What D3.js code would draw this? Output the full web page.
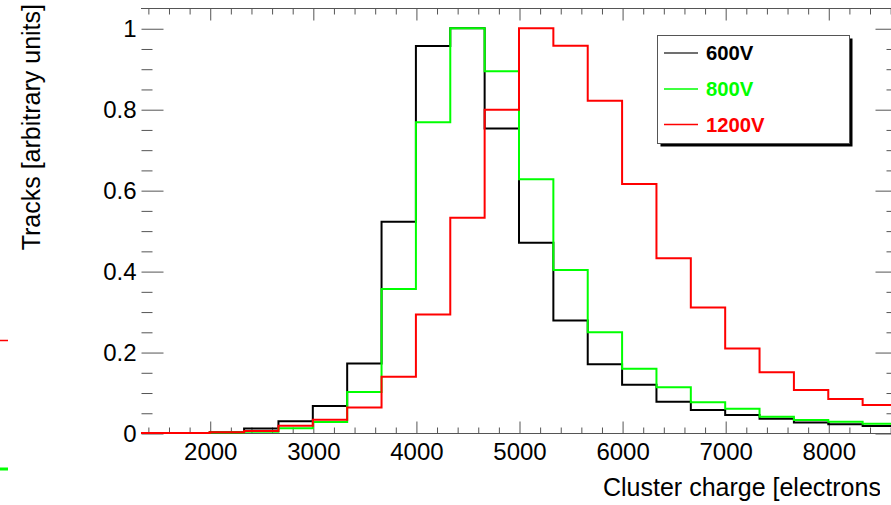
<!DOCTYPE html>
<html>
<head>
<meta charset="utf-8">
<script src="https://cdn.jsdelivr.net/npm/d3@7"></script>
<style>
  html, body { margin: 0; padding: 0; background: #fff; }
  svg { display: block; }
  text { font-family: "Liberation Sans", Arial, Helvetica, sans-serif; }
</style>
</head>
<body>
<svg id="chart" width="891" height="505"></svg>
<script>
// Histogram bin lower edges (electrons), bin width 333.33
const binLow = [1333.33, 1666.67, 2000, 2333.33, 2666.67, 3000, 3333.33, 3666.67,
  4000, 4333.33, 4666.67, 5000, 5333.33, 5666.67, 6000, 6333.33, 6666.67,
  7000, 7333.33, 7666.67, 8000, 8333.33];
const binHigh = 8666.67;

// Normalised track counts per bin for each bias voltage
const tracks600 = [0, 0, 0.002, 0.011, 0.029, 0.067, 0.172, 0.522, 0.956, 1.0, 0.752,
  0.470, 0.278, 0.170, 0.119, 0.077, 0.057, 0.0445, 0.035, 0.026, 0.0215, 0.017];
const tracks800 = [0, 0, 0.001, 0.003, 0.012, 0.027, 0.101, 0.356, 0.768, 1.0, 0.894,
  0.627, 0.403, 0.249, 0.159, 0.113, 0.076, 0.060, 0.040, 0.032, 0.028, 0.023];
const tracks1200 = [0, 0, 0.002, 0.005, 0.018, 0.033, 0.063, 0.139, 0.293, 0.532, 0.7985,
  1.0, 0.957, 0.821, 0.615, 0.432, 0.310, 0.209, 0.150, 0.106, 0.084, 0.069];

const seriesNames = ["600V", "800V", "1200V"];
const seriesColors = ["#000000", "#00ff00", "#ff0000"];

const xMajor = [2000, 3000, 4000, 5000, 6000, 7000, 8000];
const yMajor = [0, 0.2, 0.4, 0.6, 0.8, 1];

const svg = d3.select("#chart");
const W = 891, H = 505;
svg.append("rect").attr("width", W).attr("height", H).attr("fill", "#fff");

const frame = { left: 141, right: 897, top: 8, bottom: 433 };
const x = d3.scaleLinear().domain([binLow[0], binHigh]).range([frame.left, frame.right]);
const y = d3.scaleLinear().domain([0, 1.05]).range([frame.bottom, frame.top]);

const xMinor = d3.range(1400, 8700, 200).filter(v => !xMajor.includes(v));
const yMinor = d3.range(0.05, 1.05, 0.05).map(v => +v.toFixed(2)).filter(v => !yMajor.some(m => Math.abs(m - v) < 1e-6));

const axisColor = "#555";
function styleAxis(g) {
  g.select(".domain").remove();
  g.selectAll(".tick line").attr("stroke", axisColor).attr("stroke-width", 1);
}

// horizontal frame lines (top and bottom)
[frame.top, frame.bottom].forEach(yy => {
  svg.append("line").attr("x1", frame.left).attr("x2", frame.right)
    .attr("y1", yy + 0.5).attr("y2", yy + 0.5)
    .attr("stroke", axisColor).attr("stroke-width", 1);
});

// bottom axis (ticks point into the frame)
svg.append("g").attr("transform", `translate(0.5,${frame.bottom + 0.5})`)
  .call(d3.axisBottom(x).tickValues(xMinor).tickSize(-6).tickFormat(""))
  .call(styleAxis);
const gxb = svg.append("g").attr("transform", `translate(0.5,${frame.bottom + 0.5})`)
  .call(d3.axisBottom(x).tickValues(xMajor).tickSize(-12).tickPadding(9).tickFormat(d3.format("d")))
  .call(styleAxis);
gxb.selectAll("text").attr("font-size", 24).attr("fill", "#000")
  .style("font-family", "'Liberation Sans', Arial, Helvetica, sans-serif");

// top axis
svg.append("g").attr("transform", `translate(0.5,${frame.top + 0.5})`)
  .call(d3.axisTop(x).tickValues(xMinor).tickSize(-6).tickFormat(""))
  .call(styleAxis);
svg.append("g").attr("transform", `translate(0.5,${frame.top + 0.5})`)
  .call(d3.axisTop(x).tickValues(xMajor).tickSize(-12).tickFormat(""))
  .call(styleAxis);

// left axis
svg.append("g").attr("transform", `translate(${frame.left + 0.5},0.5)`)
  .call(d3.axisLeft(y).tickValues(yMinor).tickSize(-11).tickFormat(""))
  .call(styleAxis);
const gyl = svg.append("g").attr("transform", `translate(${frame.left + 0.5},0.5)`)
  .call(d3.axisLeft(y).tickValues(yMajor).tickSize(-22).tickPadding(5).tickFormat(d => d3.format("")(d)))
  .call(styleAxis);
gyl.selectAll("text").attr("font-size", 24).attr("fill", "#000")
  .style("font-family", "'Liberation Sans', Arial, Helvetica, sans-serif");

// right axis
svg.append("g").attr("transform", `translate(${frame.right + 0.5},0.5)`)
  .call(d3.axisRight(y).tickValues(yMinor).tickSize(-11).tickFormat(""))
  .call(styleAxis);
svg.append("g").attr("transform", `translate(${frame.right + 0.5},0.5)`)
  .call(d3.axisRight(y).tickValues(yMajor).tickSize(-22).tickFormat(""))
  .call(styleAxis);

// histograms
svg.append("clipPath").attr("id", "plotClip")
  .append("rect").attr("x", frame.left).attr("y", frame.top - 2)
  .attr("width", frame.right - frame.left).attr("height", frame.bottom - frame.top + 4);

const step = d3.line().x(d => x(d[0])).y(d => y(d[1])).curve(d3.curveStepAfter);
[tracks600, tracks800, tracks1200].forEach((vals, i) => {
  const pts = binLow.map((lo, j) => [lo, vals[j]]);
  pts.push([binHigh, vals[vals.length - 1]]);
  svg.append("path")
    .attr("clip-path", "url(#plotClip)")
    .attr("d", step(pts))
    .attr("fill", "none")
    .attr("stroke", seriesColors[i])
    .attr("stroke-width", 2);
});

// legend
const lg = { x: 657.5, y: 35.5, w: 192, h: 108 };
svg.append("rect").attr("x", lg.x + 3).attr("y", lg.y + 3).attr("width", lg.w).attr("height", lg.h).attr("fill", "#000");
svg.append("rect").attr("x", lg.x).attr("y", lg.y).attr("width", lg.w).attr("height", lg.h)
  .attr("fill", "#fff").attr("stroke", "#555").attr("stroke-width", 1);
const legendY = [53, 89, 124.5];
seriesNames.forEach((name, i) => {
  svg.append("line").attr("x1", 664).attr("x2", 698).attr("y1", legendY[i]).attr("y2", legendY[i])
    .attr("stroke", seriesColors[i]).attr("stroke-width", 1.5).attr("stroke-opacity", i === 0 ? 0.75 : 1);
  svg.append("text").attr("x", 706).attr("y", legendY[i] + 7.3)
    .attr("font-size", 20.3).attr("font-weight", "bold").attr("fill", seriesColors[i]).text(name);
});

// axis titles
svg.append("clipPath").attr("id", "titleClip")
  .append("rect").attr("x", 0).attr("y", 0).attr("width", 880).attr("height", H);
svg.append("text").attr("clip-path", "url(#titleClip)")
  .attr("x", 603).attr("y", 496).attr("font-size", 25).attr("fill", "#000")
  .text("Cluster charge [electrons]");
svg.append("text")
  .attr("transform", "translate(40,4) rotate(-90)")
  .attr("text-anchor", "end").attr("font-size", 25).attr("fill", "#000")
  .text("Tracks [arbitrary units]");

// marks along the left edge
svg.append("line").attr("x1", 0).attr("x2", 8).attr("y1", 340.5).attr("y2", 340.5)
  .attr("stroke", "#ff0000").attr("stroke-width", 1.5);
svg.append("line").attr("x1", 0).attr("x2", 8).attr("y1", 469).attr("y2", 469)
  .attr("stroke", "#00ff00").attr("stroke-width", 3);
</script>
</body>
</html>
